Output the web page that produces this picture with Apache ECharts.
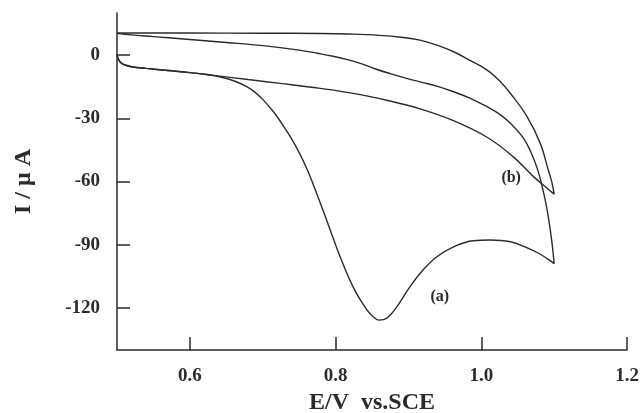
<!DOCTYPE html>
<html>
<head>
<meta charset="utf-8">
<script src="https://cdn.jsdelivr.net/npm/echarts@6/dist/echarts.min.js"></script>
<style>
html,body{margin:0;padding:0;background:#fff;}
#chart{width:640px;height:413px;}
</style>
</head>
<body>
<div id="chart"></div>
<script>
// Curve (a): forward scan then reverse scan (E in V, I in µA)
const curveA_E = [0.500,0.502,0.506,0.512,0.520,0.540,0.570,0.600,0.625,0.645,0.662,0.678,0.690,0.700,0.715,0.730,0.745,0.760,0.775,0.790,0.806,0.824,0.843,0.852,0.860,0.870,0.884,0.902,0.920,0.939,0.962,0.989,1.012,1.040,1.060,1.080,1.092,1.100,
  1.097,1.093,1.089,1.084,1.077,1.068,1.058,1.040,1.025,1.008,0.985,0.962,0.940,0.916,0.895,0.875,0.855,0.835,0.815,0.795,0.775,0.750,0.700,0.650,0.600,0.550,0.520,0.500];
const curveA_I = [0.5,-2.0,-3.8,-4.8,-5.5,-6.3,-7.3,-8.3,-9.3,-10.6,-12.4,-15.0,-17.8,-21.0,-27.0,-34.5,-43.0,-53.5,-66.5,-80.5,-95.5,-110.0,-121.0,-124.3,-125.8,-125.0,-119.5,-110.0,-102.0,-95.7,-91.0,-88.1,-87.8,-88.6,-91.0,-94.3,-97.0,-99.0,
  -89.0,-79.0,-71.0,-63.0,-54.0,-46.0,-39.5,-32.4,-28.0,-24.5,-20.5,-17.4,-14.8,-12.7,-10.8,-8.8,-6.6,-4.0,-2.0,-0.4,0.9,2.4,4.5,6.0,7.4,8.8,9.6,10.4];
// Curve (b): forward scan then reverse scan
const curveB_E = [0.500,0.502,0.506,0.512,0.520,0.540,0.570,0.600,0.630,0.680,0.724,0.779,0.830,0.870,0.916,0.961,1.008,1.044,1.072,1.088,1.100,
  1.097,1.092,1.081,1.063,1.040,1.025,1.008,0.985,0.962,0.940,0.916,0.890,0.860,0.820,0.780,0.700,0.600,0.500];
const curveB_I = [0.5,-2.0,-3.8,-4.8,-5.5,-6.3,-7.3,-8.3,-9.5,-11.6,-13.4,-15.8,-18.5,-21.4,-25.5,-31.0,-39.0,-48.3,-57.8,-62.5,-66.0,
  -60.5,-54.6,-41.9,-29.3,-18.2,-12.2,-7.1,-2.6,1.6,4.6,7.1,8.5,9.4,10.0,10.3,10.4,10.5,10.5];
// Axis ticks
const xTicks = [0.6, 0.8, 1.0, 1.2];
const yTicks = [0, -30, -60, -90, -120];
// Curve labels
const labels = [{text:'(a)', E:0.943, I:-114.9}, {text:'(b)', E:1.041, I:-58.4}];

const pair = (xs, ys) => xs.map((x, i) => [x, ys[i]]);
const font = 'Liberation Serif, Times New Roman, serif';
const ink = '#2b2b2b';

const chart = echarts.init(document.getElementById('chart'), null, {renderer:'canvas'});
chart.setOption({
  animation: false,
  backgroundColor: '#fff',
  grid: {left:117, right:13, top:13, bottom:63, containLabel:false, outerBoundsMode:'none'},
  xAxis: {
    type:'value', min:0.5, max:1.2,
    name:'E/V  vs.SCE', nameLocation:'middle', nameGap:33,
    nameTextStyle:{fontFamily:font, fontWeight:'bold', fontSize:24, color:ink},
    axisLine:{show:true, onZero:false, lineStyle:{color:ink, width:1.5}},
    axisTick:{show:true, inside:true, length:13, customValues:xTicks, lineStyle:{color:ink, width:1.5}},
    axisLabel:{customValues:xTicks, formatter:v=>v.toFixed(1), margin:17, fontFamily:font, fontWeight:'bold', fontSize:19, color:ink},
    splitLine:{show:false}
  },
  yAxis: {
    type:'value', min:-140, max:20,
    name:'I / μ A', nameLocation:'middle', nameGap:81, nameRotate:90,
    nameTextStyle:{fontFamily:font, fontWeight:'bold', fontSize:24, color:ink},
    axisLine:{show:true, onZero:false, lineStyle:{color:ink, width:1.5}},
    axisTick:{show:true, inside:true, length:13, customValues:yTicks, lineStyle:{color:ink, width:1.5}},
    axisLabel:{customValues:yTicks, margin:17, fontFamily:font, fontWeight:'bold', fontSize:19, color:ink},
    splitLine:{show:false}
  },
  series: [
    {type:'line', name:'(a)', data:pair(curveA_E, curveA_I), smooth:0.4, showSymbol:false,
     lineStyle:{color:ink, width:1.4}},
    {type:'line', name:'(b)', data:pair(curveB_E, curveB_I), smooth:0.4, showSymbol:false,
     lineStyle:{color:ink, width:1.4}},
    {type:'scatter', data:labels.map(l=>({value:[l.E, l.I], name:l.text})), symbolSize:0,
     itemStyle:{opacity:1},
     label:{show:true, position:'inside', formatter:p=>p.name, fontFamily:font, fontWeight:'bold', fontSize:16, color:ink},
     silent:true}
  ]
});
</script>
</body>
</html>
